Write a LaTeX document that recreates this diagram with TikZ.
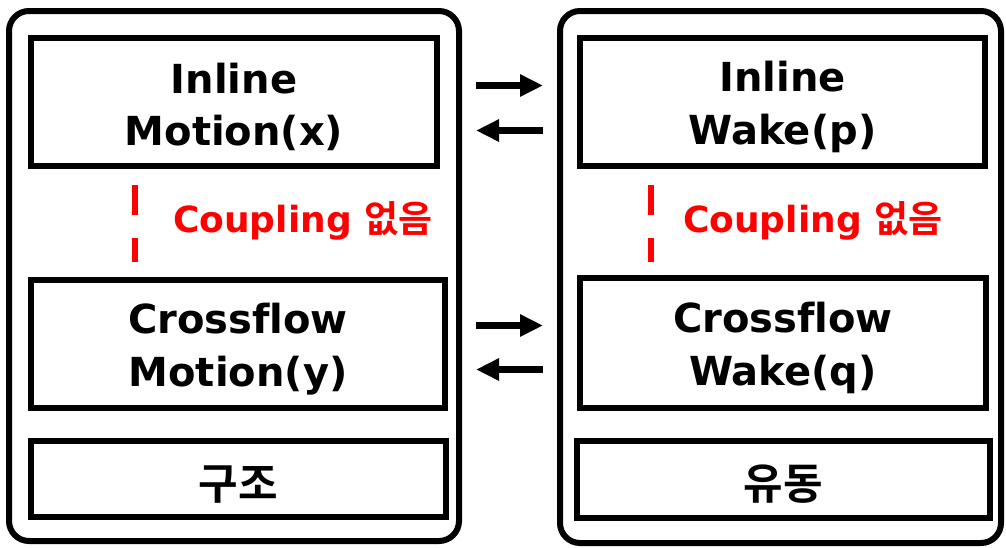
\documentclass[tikz,border=0pt]{standalone}
\usepackage{fontspec}
\setmainfont{DejaVu Sans}[Ligatures=NoCommon]
\newfontfamily\kr{Noto Sans CJK KR}[BoldFont={* Bold}]
\usetikzlibrary{arrows.meta}

\tikzset{
  panel/.style={draw, line width=6pt, rounded corners=20pt, inner sep=0pt},
  frame/.style={draw, line width=6pt, inner sep=0pt},
  block/.style={frame, align=center,
    font=\bfseries\fontsize{40}{52.5}\selectfont,
    execute at begin node={\rule{0pt}{93pt}}},
  krblock/.style={frame, font=\kr\bfseries\fontsize{43}{50}\selectfont,
    execute at begin node={\rule{0pt}{44pt}}},
  nocoupling/.style={red, line width=6pt, dash pattern=on 30pt off 23pt},
  note/.style={red, inner sep=0pt, anchor=base west,
    font=\bfseries\fontsize{36}{40}\selectfont},
  flow/.style={line width=7pt, -{Triangle[length=23pt,width=21pt]},
    shorten <=14pt, shorten >=14pt}
}

\begin{document}
\begin{tikzpicture}[x=1pt, y=-1pt]
  \useasboundingbox (0,0) rectangle (1006,547);

  % Marcos exteriores
  \node[panel, minimum width=450pt, minimum height=530pt] (struct) at (234,276) {};
  \node[panel, minimum width=441pt, minimum height=532pt] (fluid) at (780.5,277) {};

  % Bloques del lado estructura
  \node[block, minimum width=406pt, minimum height=128pt] (mx) at (234,102) {Inline\\Motion(x)};
  \node[block, minimum width=414pt, minimum height=128pt] (my) at (238,344) {Crossflow\\Motion(y)};
  \node[krblock, minimum width=415pt, minimum height=76pt] (slab) at (238.5,479) {구조};

  % Bloques del lado flujo
  \node[block, minimum width=405pt, minimum height=128pt] (wp) at (782.5,102) {Inline\\Wake(p)};
  \node[block, minimum width=406pt, minimum height=130pt] (wq) at (783,343) {Crossflow\\Wake(q)};
  \node[krblock, minimum width=413pt, minimum height=77pt] (flab) at (783.5,479.5) {유동};

  % Sin acoplamiento entre direcciones
  \draw[nocoupling, shorten <=16pt, shorten >=15pt] ([xshift=-99pt]mx.south) -- ([xshift=-99pt]mx.south |- my.north);
  \draw[nocoupling, shorten <=16pt, shorten >=13pt] ([xshift=-131.5pt]wp.south) -- ([xshift=-131.5pt]wp.south |- wq.north);
  \node[note] (lnote) at (173,232) {Coupling {\kr\fontsize{37}{40}\selectfont 없음}};
  \node[note] (rnote) at (683,232) {Coupling {\kr\fontsize{37}{40}\selectfont 없음}};

  % Intercambio estructura <-> flujo
  \draw[flow] ([yshift=16.5pt]mx.center -| struct.east) -- ([yshift=16.5pt]mx.center -| fluid.west);
  \draw[flow] ([yshift=-28.5pt]mx.center -| fluid.west) -- ([yshift=-28.5pt]mx.center -| struct.east);
  \draw[flow] ([yshift=18.5pt]my.center -| struct.east) -- ([yshift=18.5pt]my.center -| fluid.west);
  \draw[flow] ([yshift=-25.5pt]my.center -| fluid.west) -- ([yshift=-25.5pt]my.center -| struct.east);
\end{tikzpicture}
\end{document}
